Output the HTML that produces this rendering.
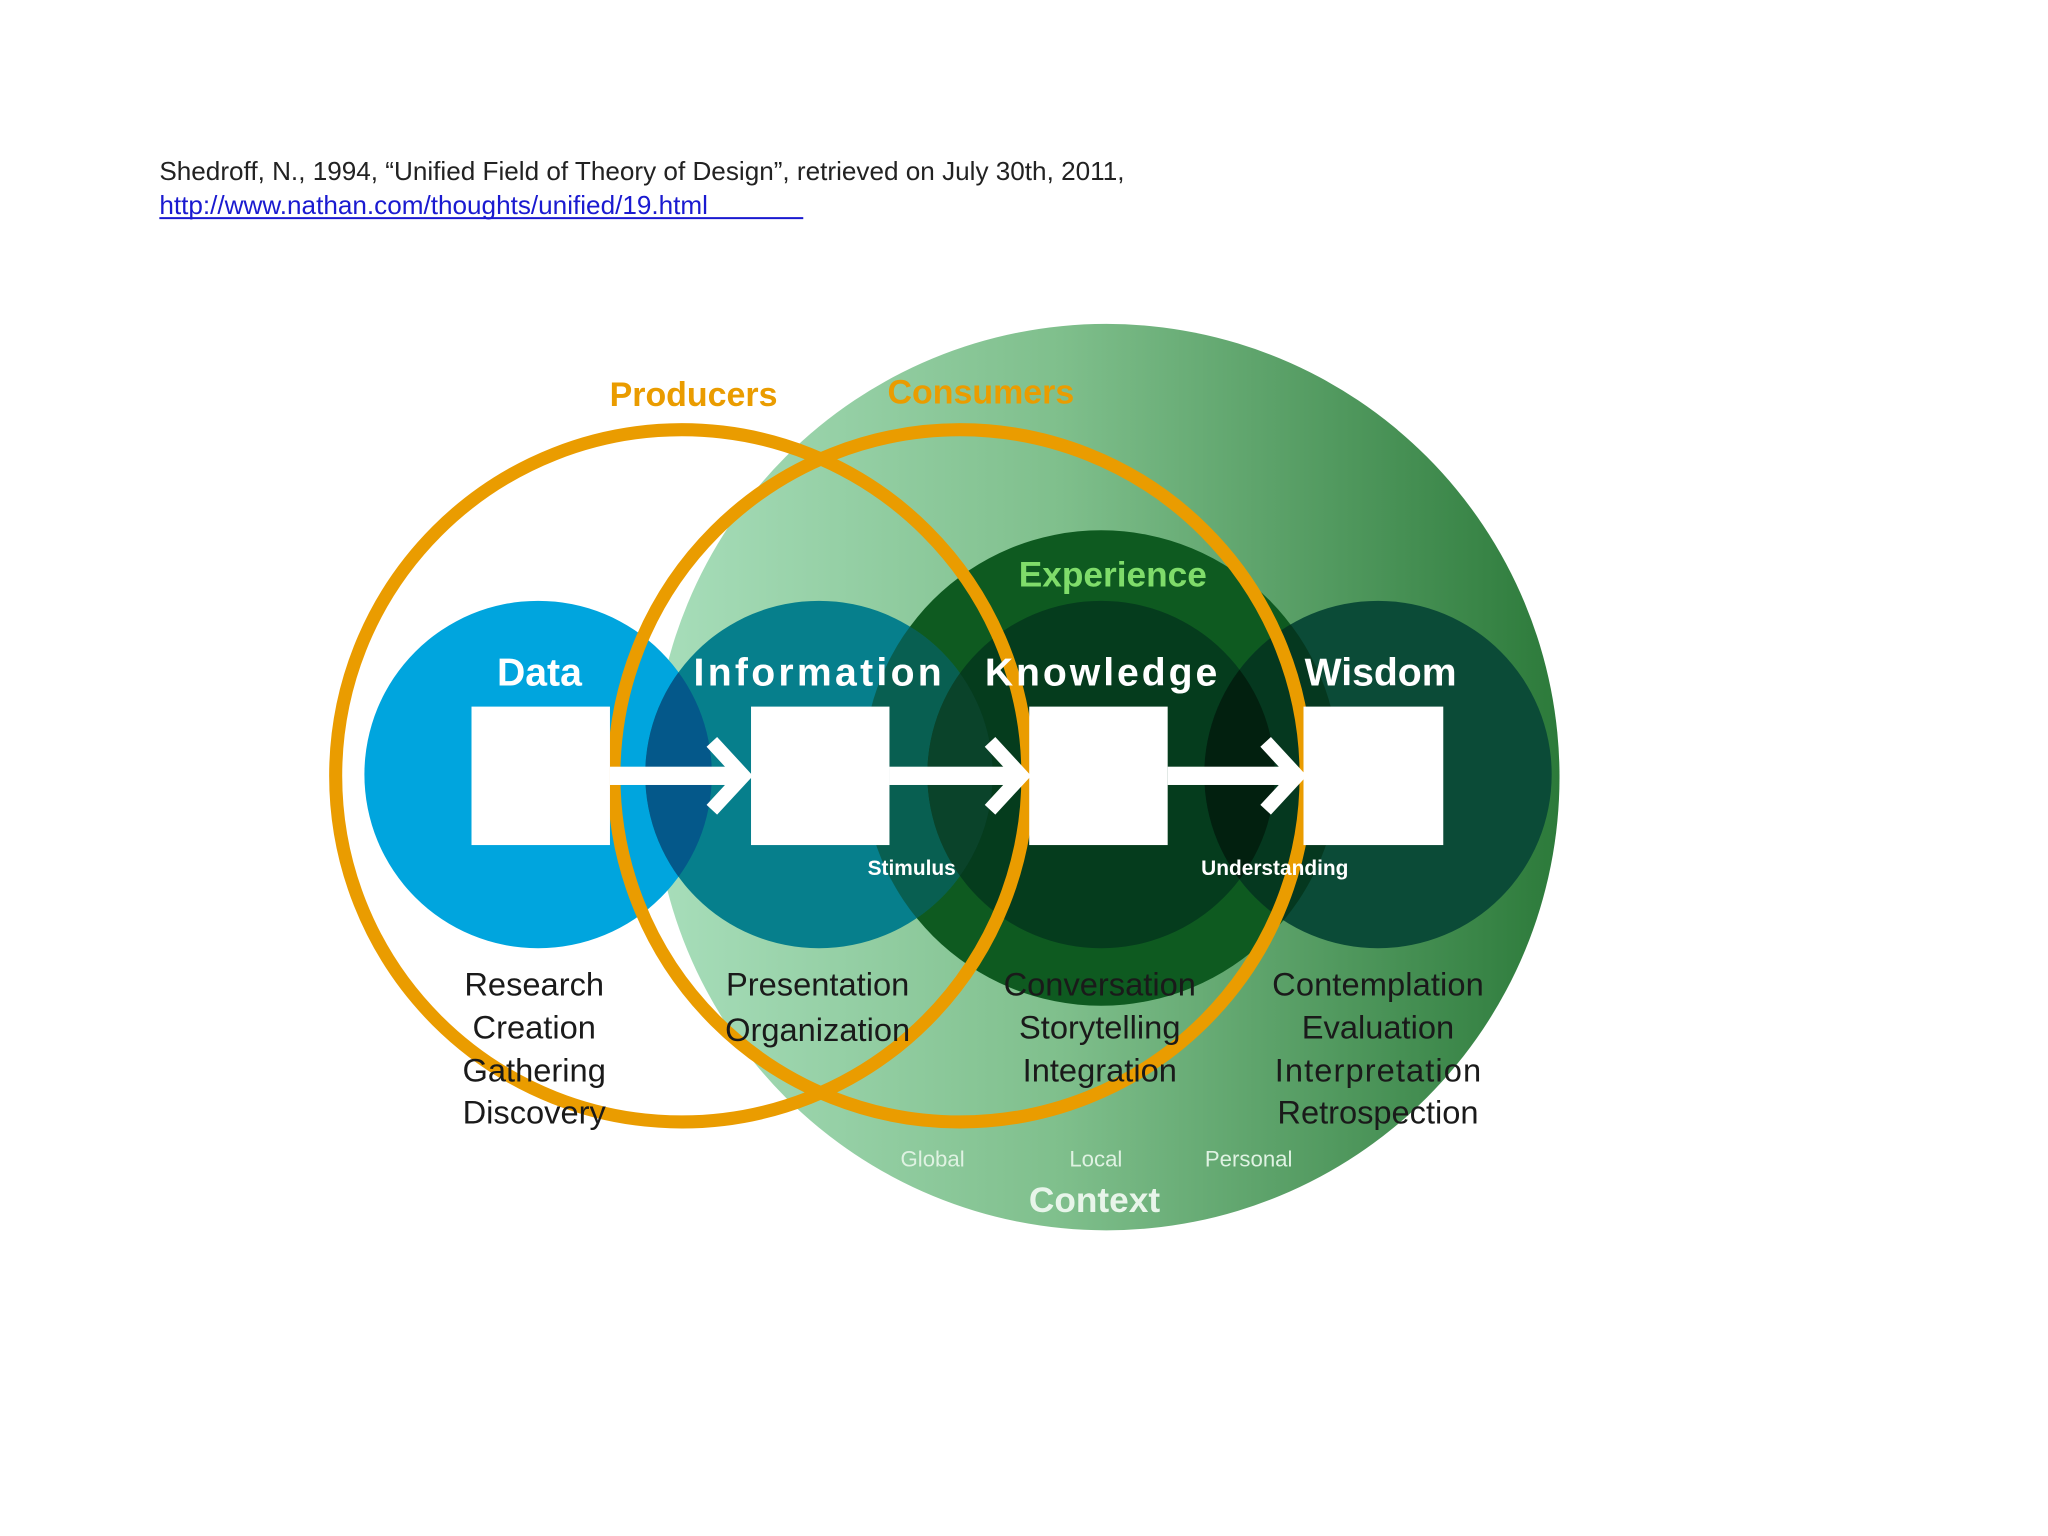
<!DOCTYPE html>
<html><head><meta charset="utf-8"><style>
html,body{margin:0;padding:0;background:#fff;width:2048px;height:1536px;overflow:hidden}
svg{display:block}
text{font-family:"Liberation Sans",sans-serif}
</style></head><body>
<svg width="2048" height="1536" viewBox="0 0 1568 1176" xmlns="http://www.w3.org/2000/svg">
<defs>
<linearGradient id="g" x1="0" y1="0" x2="1" y2="0">
<stop offset="0" stop-color="#a8debb"/><stop offset="0.45" stop-color="#7fbf8c"/><stop offset="1" stop-color="#2c7a3a"/>
</linearGradient>
<clipPath id="cData"><circle cx="412" cy="593" r="133"/></clipPath>
<clipPath id="cInfo"><circle cx="627" cy="593" r="133"/></clipPath>
<clipPath id="cKnow"><circle cx="843" cy="593" r="133"/></clipPath>
<clipPath id="cExp"><circle cx="843" cy="588" r="182"/></clipPath>
</defs>
<text x="122" y="138" font-size="20" fill="#222">Shedroff, N., 1994, “Unified Field of Theory of Design”, retrieved on July 30th, 2011,</text>
<text x="122" y="164" font-size="20" fill="#1a1ad0">http://www.nathan.com/thoughts/unified/19.html</text>
<line x1="122" y1="167" x2="615" y2="167" stroke="#1a1ad0" stroke-width="1.5"/>

<circle cx="847" cy="595" r="347" fill="url(#g)"/>
<circle cx="843" cy="588" r="182" fill="#0e5a20"/>
<circle cx="412" cy="593" r="133" fill="#00a5de"/>
<circle cx="627" cy="593" r="133" fill="#067f8c"/>
<circle cx="627" cy="593" r="133" fill="#04588a" clip-path="url(#cData)"/>
<circle cx="843" cy="593" r="133" fill="#053c1d"/>
<circle cx="843" cy="593" r="133" fill="#0a3a2c" clip-path="url(#cInfo)"/>
<circle cx="627" cy="593" r="133" fill="#0a4a2a" clip-path="url(#cExp)" opacity="0.6"/>
<circle cx="1055" cy="593" r="133" fill="#0b4b37"/>
<circle cx="1055" cy="593" r="133" fill="#05381f" clip-path="url(#cExp)"/>
<circle cx="1055" cy="593" r="133" fill="#02200f" clip-path="url(#cKnow)"/>

<circle cx="522" cy="594" r="265" fill="none" stroke="#ea9c00" stroke-width="10"/>
<circle cx="735" cy="594" r="265" fill="none" stroke="#ea9c00" stroke-width="10"/>

<rect x="361" y="541" width="106" height="106" fill="#fff"/>
<rect x="575" y="541" width="106" height="106" fill="#fff"/>
<rect x="788" y="541" width="106" height="106" fill="#fff"/>
<rect x="998" y="541" width="107" height="106" fill="#fff"/>
<g fill="#fff">
<rect x="467" y="587" width="100" height="14"/>
<rect x="681" y="587" width="100" height="14"/>
<rect x="894" y="587" width="98" height="14"/>
</g>
<g fill="none" stroke="#fff" stroke-width="11" stroke-linecap="butt">
<polyline points="545,568 569,594 545,620"/>
<polyline points="758,568 782,594 758,620"/>
<polyline points="969,568 993,594 969,620"/>
</g>

<g font-weight="bold" text-anchor="middle">
<text x="531" y="311" font-size="26" fill="#ea9c00">Producers</text>
<text x="751" y="309" font-size="26" fill="#ea9c00">Consumers</text>
<text x="852" y="449" font-size="27" fill="#7fdc6a">Experience</text>
<text x="413" y="525" font-size="30" fill="#fff">Data</text>
<text x="626" y="525" font-size="30" fill="#fff" textLength="190">Information</text>
<text x="843" y="525" font-size="30" fill="#fff" textLength="178">Knowledge</text>
<text x="1057" y="525" font-size="30" fill="#fff">Wisdom</text>
<text x="698" y="670" font-size="16" fill="#fff">Stimulus</text>
<text x="976" y="670" font-size="16" fill="#fff">Understanding</text>
<text x="838" y="928" font-size="27" fill="#e8f5ea">Context</text>
</g>
<g text-anchor="middle" font-size="17" fill="#dff2e2">
<text x="714" y="893">Global</text>
<text x="839" y="893">Local</text>
<text x="956" y="893">Personal</text>
</g>
<g text-anchor="middle" font-size="25" fill="#1a1a1a">
<text x="409" y="762">Research</text>
<text x="409" y="795">Creation</text>
<text x="409" y="828">Gathering</text>
<text x="409" y="860">Discovery</text>
<text x="626" y="762">Presentation</text>
<text x="626" y="797">Organization</text>
<text x="842" y="762">Conversation</text>
<text x="842" y="795">Storytelling</text>
<text x="842" y="828">Integration</text>
<text x="1055" y="762" textLength="162">Contemplation</text>
<text x="1055" y="795">Evaluation</text>
<text x="1055" y="828" textLength="158">Interpretation</text>
<text x="1055" y="860" textLength="154">Retrospection</text>
</g>
</svg>
</body></html>
